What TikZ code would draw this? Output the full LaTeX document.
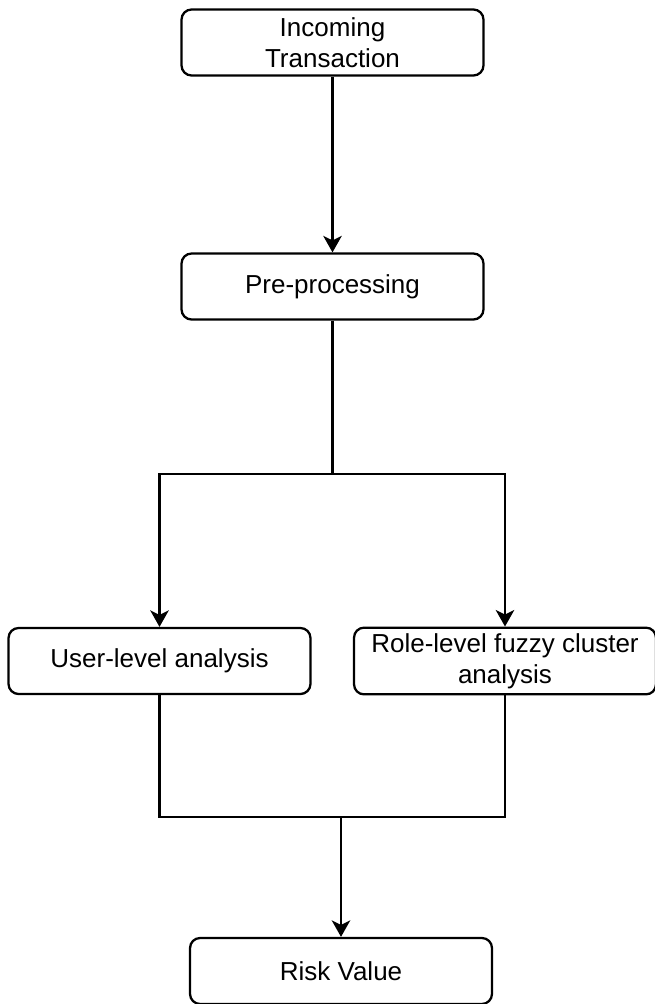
\documentclass[tikz,border=0pt]{standalone}
\usepackage{fontspec}
\setmainfont{Liberation Sans}
\usetikzlibrary{positioning}
\usetikzlibrary{arrows.meta}

\begin{document}
\begin{tikzpicture}[x=0.02cm, y=-0.02cm,
  box/.style={draw, black, line width=1.3pt, rounded corners=0.2cm,
    minimum width=6.04cm, minimum height=1.32cm, align=center,
    font=\fontsize{14.8}{17.5}\selectfont},
  flow/.style={black, line width=1.3pt},
  arr/.style={flow, -{Stealth[length=0.33cm, width=0.37cm, inset=0.09cm]}}]
\useasboundingbox (0,0) rectangle (654,1004);

%boxes
\node[box] (trans) at (332.5,42.5) {Incoming\\Transaction};
\node[box] (prep) at (332.5,286.5) {Pre-processing};
\node[box] (user) at (159.5,661) {User-level analysis};
\node[box] (role) at (505,661) {Role-level fuzzy cluster\\analysis};
\node[box] (risk) at (341,971) {Risk Value};

%split and join points
\coordinate (split) at (332.5,474);
\coordinate (join) at (341,817);

%connectors
\draw[arr] (trans) -- (prep);
\draw[flow] (prep) -- (split);
\draw[arr] (split) -| (user);
\draw[arr] (split) -| (role);
\draw[flow] (user) |- (join);
\draw[flow] (role) |- (join);
\draw[arr] (join) -- (risk);

\end{tikzpicture}
\end{document}
